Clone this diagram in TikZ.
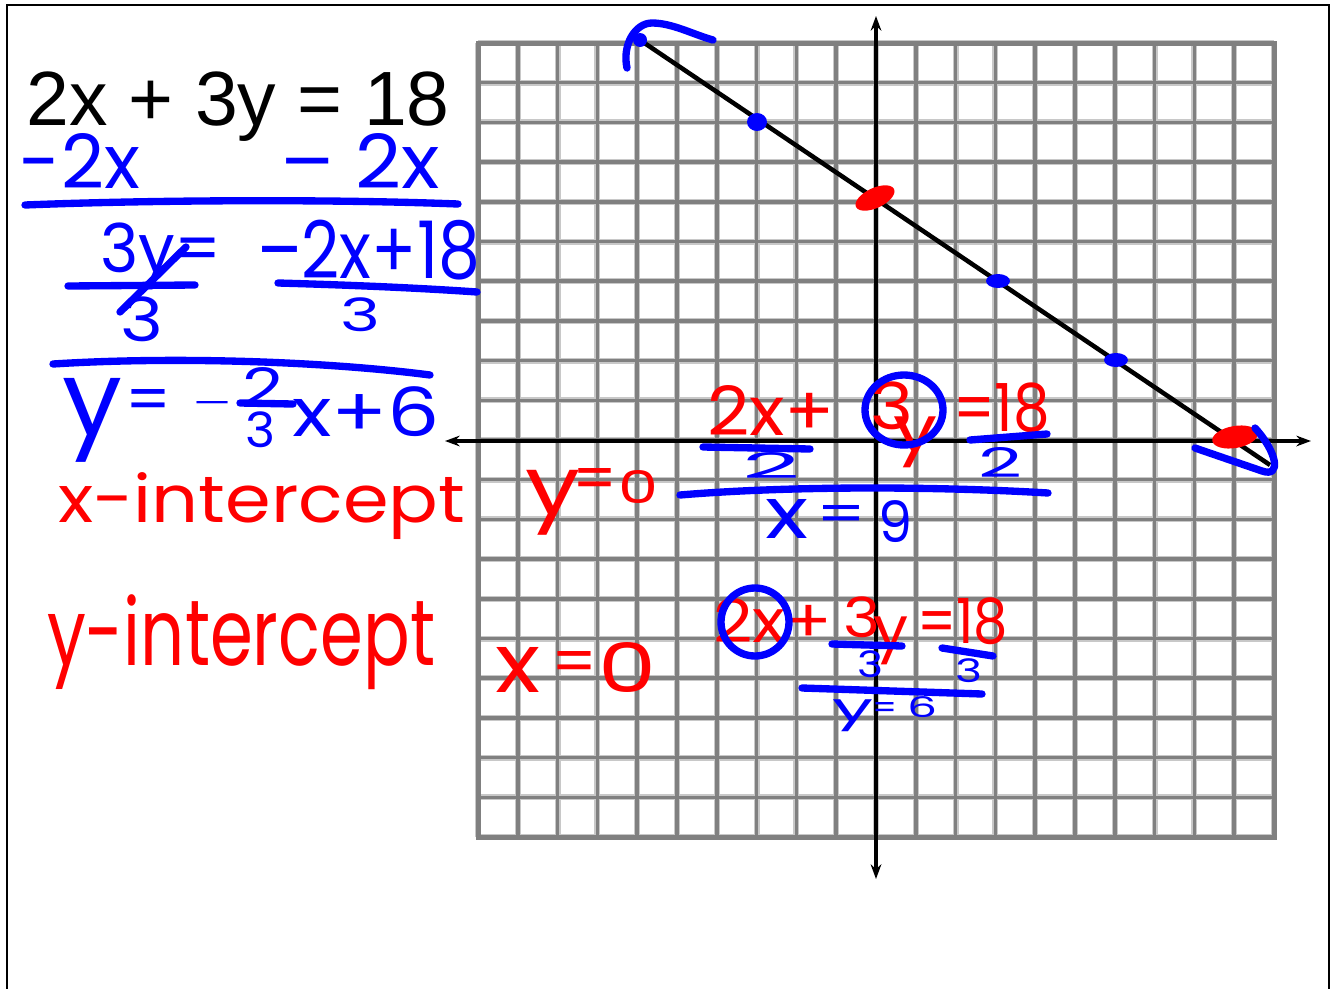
\documentclass[tikz,border=0pt]{standalone}
\usepackage{fontspec}
\setmainfont{Liberation Sans}
\newfontfamily\hand{Poppins}
\usetikzlibrary{arrows.meta}
\newlength\px
\setlength\px{0.75pt}
\definecolor{hb}{RGB}{0,0,255}
\definecolor{hr}{RGB}{255,0,0}
\definecolor{gridc}{RGB}{128,128,128}
\definecolor{gridh}{RGB}{200,200,200}
\newcommand\hw[7]{\node[anchor=north west,inner sep=0pt,outer sep=0pt,text=#6] (#1) at (#2,#3) {\resizebox*{#4\px}{#5\px}{\hand #7}};}
\begin{document}
\begin{tikzpicture}[x=0.75pt,y=-0.75pt,
  gridhalo/.style={gridh,line width=4.5pt},
  gridline/.style={gridc,line width=2.6pt},
  axis/.style={black,line width=3pt,{Stealth[length=11pt,width=8pt]}-{Stealth[length=11pt,width=8pt]}},
  graphline/.style={black,line width=3.4pt},
  hstroke/.style={line width=5.5pt,line cap=round,line join=round},
  frame/.style={black,line width=1.5pt}]
\useasboundingbox (0,0) rectangle (1336,989);
\fill[white] (0,0) rectangle (1336,989);
% frame
\draw[frame] (7,995) -- (7,5) -- (1329,5) -- (1329,995);
% grid
\foreach \i in {0,...,20} {
  \draw[gridhalo] ({478+\i*39.8},43) -- ({478+\i*39.8},837);
  \draw[gridhalo] (478,{43+\i*39.7}) -- (1274,{43+\i*39.7});
}
\foreach \i in {0,...,20} {
  \draw[gridline] ({478+\i*39.8},43) -- ({478+\i*39.8},837);
  \draw[gridline] (478,{43+\i*39.7}) -- (1274,{43+\i*39.7});
}
\draw[gridc,line width=3.75pt] (478,43) rectangle (1274,837);
% axes
\coordinate (xl) at (445,441);
\coordinate (xr) at (1311,441);
\coordinate (yt) at (876,16);
\coordinate (yb) at (876,879);
\draw[axis] (xl) -- (xr);
\draw[axis] (yt) -- (yb);
% graph line
\coordinate (la) at (637,38);
\coordinate (lb) at (1270,465);
\draw[graphline] (la) -- (lb);
% dots
\fill[hb] (757,122) ellipse [x radius=10, y radius=9];
\fill[hb] (998,281) ellipse [x radius=12, y radius=7];
\fill[hb] (1116,360) ellipse [x radius=12, y radius=7];
\fill[hb] (640,40) ellipse [x radius=7, y radius=7];
\fill[hr, rotate around={25:(875,198)}] (875,198) ellipse [x radius=21, y radius=10];
\fill[hr, rotate around={10:(1235,437)}] (1235,437) ellipse [x radius=23, y radius=11];
% blue hooks
\draw[hb,hstroke] (627,68) .. controls (622,45) and (635,23) .. (652,23) .. controls (672,23) and (692,34) .. (713,40);
\draw[hb,hstroke] (1195,448) -- (1262,471) .. controls (1282,478) and (1277,452) .. (1255,428);
% title
\node[anchor=base west,inner sep=0pt,font=\fontsize{57.7}{60}\selectfont] (title) at (26,125) {2x + 3y = 18};
% blue left work
\hw{m1}{20}{133}{120}{55}{hb}{-2x}
\hw{m2}{280}{133}{160}{55}{hb}{– 2x}
\draw[hb,hstroke] (25,205) .. controls (150,200) and (330,199) .. (458,204);
\hw{d1}{100}{223}{122}{67}{hb}{3y=}
\draw[hb,hstroke] (186,247) -- (120,312);
\hw{d2}{257}{220}{223}{60}{hb}{–2x+18}
\draw[hb,hstroke] (68,286) -- (195,285);
\draw[hb,hstroke] (278,283) .. controls (350,285) and (420,288) .. (477,292);
\hw{f1}{120}{297}{43}{45}{hb}{3}
\hw{f2}{340}{298}{40}{34}{hb}{3}
\draw[hb,hstroke] (53,364) .. controls (180,356) and (330,362) .. (430,375);
\hw{h1}{62}{378}{60}{84}{hb}{y}
\hw{h2}{125}{389}{46}{32}{hb}{=}
\hw{h3}{192}{401}{40}{12}{hb}{–}
\hw{h4}{242}{367}{41}{38}{hb}{2}
\draw[hb,hstroke] (240,403) -- (293,404);
\hw{h5}{245}{412}{30}{36}{hb}{3}
\hw{h6}{292}{387}{148}{50}{hb}{x+6}
% red labels
\hw{xi}{58}{473}{407}{67}{hr}{x-intercept}
\hw{yi}{47}{595}{388}{95}{hr}{y-intercept}
\hw{y0a}{525}{470}{55}{65}{hr}{y}
\hw{y0b}{572}{468}{45}{32}{hr}{=}
\hw{y0c}{618}{470}{40}{33}{hr}{0}
\hw{x0a}{495}{647}{45}{45}{hr}{x}
\hw{x0b}{551}{651}{46}{32}{hr}{=}
\hw{x0c}{598}{642}{58}{50}{hr}{0}
% upper red equation
\hw{e1}{707}{385}{128}{50}{hr}{2x+}
\hw{e2}{870}{382}{43}{48}{hr}{3}
\hw{e3}{893}{417}{44}{51}{hr}{y}
\hw{e4}{953}{383}{97}{50}{hr}{=18}
\draw[hb,hstroke] (904,410) ellipse [x radius=39, y radius=35];
\draw[hb,hstroke] (703,447) -- (810,449);
\hw{e5}{742}{452}{58}{26}{hb}{2}
\draw[hb,hstroke] (970,440) -- (1047,434);
\hw{e6}{978}{447}{44}{30}{hb}{2}
\draw[hb,hstroke] (680,495) .. controls (800,485) and (950,487) .. (1048,493);
\hw{e7}{765}{499}{43}{39}{hb}{x}
\hw{e8}{816}{505}{50}{27}{hb}{=}
\hw{e9}{878}{501}{34}{42}{hb}{9}
% lower red equation
\hw{g1}{713}{598}{119}{44}{hr}{2x+}
\hw{g2}{843}{597}{37}{41}{hr}{3}
\hw{g3}{873}{617}{35}{48}{hr}{y}
\hw{g4}{917}{598}{91}{47}{hr}{=18}
\draw[hb,hstroke] (755,622) circle [radius=34];
\draw[hb,hstroke] (832,644) -- (902,646);
\draw[hb,hstroke] (942,648) -- (993,656);
\hw{g5}{857}{651}{26}{27}{hb}{3}
\hw{g6}{955}{659}{27}{24}{hb}{3}
\draw[hb,hstroke] (802,688) -- (982,694);
\hw{g7}{832}{700}{41}{32}{hb}{y}
\hw{g8}{872}{702}{25}{16}{hb}{=}
\hw{g9}{907}{697}{30}{21}{hb}{6}
\end{tikzpicture}
\end{document}
